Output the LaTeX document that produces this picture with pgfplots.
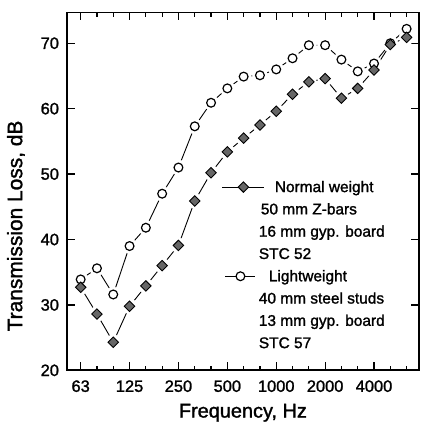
\documentclass[border=0pt]{standalone}
\usepackage{pgfplots}
\pgfplotsset{compat=1.18}
\usepackage{pgfplotstable}
\usepackage{fontspec}
\setmainfont{Liberation Sans}[FakeBold=1.4]

% 1/3-octave bands 63 ... 6300 Hz, plotted at index 0 ... 20
\pgfplotstableread{
band tl
0  33.9
1  35.6
2  31.6
3  39.0
4  41.8
5  47.0
6  51.0
7  57.3
8  60.9
9  63.1
10 64.9
11 65.1
12 66.0
13 67.7
14 69.7
15 69.7
16 67.5
17 65.7
18 66.9
19 70.0
20 72.2
}\lightw

\pgfplotstableread{
band tl
0  32.7
1  28.6
2  24.3
3  29.8
4  32.9
5  36.0
6  39.1
7  45.9
8  50.2
9  53.4
10 55.5
11 57.5
12 59.6
13 62.2
14 64.1
15 64.6
16 61.6
17 63.1
18 65.9
19 69.8
20 70.9
}\normalw

\pgfplotsset{
  diaimg/.style={legend image code/.code={\draw[mark repeat=2, mark phase=2, ##1] plot coordinates {(0bp,0bp) (21bp,0bp) (42bp,0bp)};}},
  circimg/.style={legend image code/.code={\draw[mark repeat=2, mark phase=2, ##1] plot coordinates {(3bp,0bp) (18bp,0bp) (33bp,0bp)};}},
}

\begin{document}
\begin{tikzpicture}
\begin{axis}[
  scale only axis, width=352bp, height=358bp,
  xmin=-0.84, xmax=20.75, ymin=20, ymax=74.7,
  xtick={0,3,6,9,12,15,18},
  xticklabels={63,125,250,500,1000,2000,4000},
  minor xtick={0,...,20},
  ytick={20,30,...,70},
  tick align=inside,
  major tick length=8bp, minor tick length=4.5bp,
  every tick/.style={black, line width=1.2bp},
  axis line style={line width=1.8bp},
  tick label style={font=\fontsize{16.5}{18}\selectfont},
  /pgf/number format/assume math mode=true,
  xticklabel style={yshift=-6.5bp},
  yticklabel style={xshift=-4.5bp},
  xlabel={Frequency, Hz},
  ylabel={Transmission Loss, dB},
  xlabel style={font=\fontsize{20}{22}\selectfont, at={(ticklabel cs:0.5,5bp)}},
  ylabel style={font=\fontsize{21}{23}\selectfont, at={(ticklabel cs:0.4036,9bp)}},
  legend cell align=left,
  legend style={draw=none, fill=none, at={(rel axis cs:0.440,0.535)},
    anchor=north west, inner sep=0pt, row sep=6.3bp, column sep=0pt,
    font=\fontsize{15.5}{18}\selectfont,
    nodes={inner sep=0pt, text height=13bp, text depth=3bp}},
]
% lines, then white halos that cut them near each marker, then the markers
\addplot[black, line width=0.9bp, forget plot] table[x=band,y=tl]{\lightw};
\addplot[black, line width=0.9bp, forget plot] table[x=band,y=tl]{\normalw};
\addplot[only marks, mark=*, mark size=7.5bp, mark options={draw=white, fill=white}, forget plot] table[x=band,y=tl]{\lightw};
\addplot[only marks, mark=*, mark size=7.5bp, mark options={draw=white, fill=white}, forget plot] table[x=band,y=tl]{\normalw};
\addplot[only marks, mark=*, mark size=4.4bp, mark options={draw=black, fill=white, line width=1.2bp}, forget plot] table[x=band,y=tl]{\lightw};
\addplot[only marks, mark=square*, mark size=3.7bp, mark options={rotate=45, draw=black, fill=black!60, line width=0.9bp}, forget plot] table[x=band,y=tl]{\normalw};

\addlegendimage{diaimg, black, line width=0.9bp, mark=square*, mark size=3.7bp, mark options={rotate=45, fill=black!60}}
\addlegendimage{empty legend}
\addlegendimage{empty legend}
\addlegendimage{empty legend}
\addlegendimage{circimg, black, line width=0.9bp, mark=*, mark size=4.4bp, mark options={fill=white, line width=1.2bp}}
\addlegendimage{empty legend}
\addlegendimage{empty legend}
\addlegendimage{empty legend}
\legend{\hspace{10bp}Normal weight, \hspace{-4bp}50 mm Z-bars, \hspace{-6bp}16 mm gyp. board, \hspace{-6bp}STC 52,
  \hspace{4bp}Lightweight, \hspace{-6bp}40 mm steel studs, \hspace{-6bp}13 mm gyp. board, \hspace{-6bp}STC 57}
\end{axis}
\path ([xshift=-67bp,yshift=-54.5bp]current axis.south west) rectangle ([xshift=3bp,yshift=12.5bp]current axis.north east);
\end{tikzpicture}
\end{document}
